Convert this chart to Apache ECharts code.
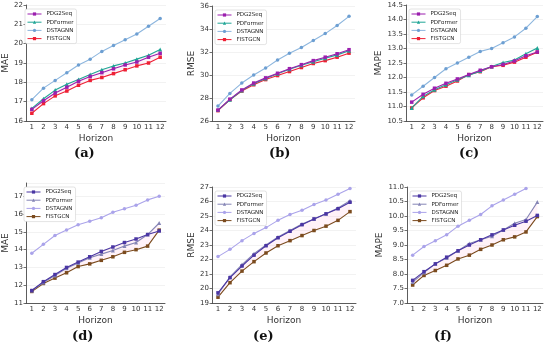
<!DOCTYPE html>
<html><head><meta charset="utf-8">
<script src="https://cdn.jsdelivr.net/npm/echarts@6/dist/echarts.min.js"></script>
<style>html,body{margin:0;padding:0;background:#fff}#c{width:550px;height:350px}</style>
</head><body><div id="c"></div>
<script>
const horizons = ['1','2','3','4','5','6','7','8','9','10','11','12'];
const seriesNames = ['PDG2Seq','PDFormer','DSTAGNN','FISTGCN'];

// (a) MAE
const a_PDG2Seq = [16.6,17.05,17.45,17.75,18.05,18.3,18.5,18.7,18.9,19.05,19.3,19.5];
const a_PDFormer = [16.65,17.15,17.6,17.9,18.15,18.4,18.65,18.85,19.0,19.2,19.4,19.7];
const a_DSTAGNN = [17.1,17.7,18.1,18.5,18.9,19.2,19.6,19.9,20.2,20.5,20.9,21.3];
const a_FISTGCN = [16.4,16.9,17.3,17.55,17.85,18.1,18.25,18.45,18.65,18.85,19.0,19.3];
// (b) RMSE
const b_PDG2Seq = [26.95,27.9,28.7,29.3,29.75,30.15,30.55,30.9,31.25,31.55,31.85,32.2];
const b_PDFormer = [26.95,27.85,28.65,29.25,29.7,30.1,30.5,30.85,31.15,31.45,31.75,32.1];
const b_DSTAGNN = [27.3,28.4,29.3,30.0,30.6,31.3,31.9,32.4,33.0,33.6,34.3,35.1];
const b_FISTGCN = [26.9,27.85,28.6,29.15,29.6,29.95,30.3,30.65,31.0,31.25,31.55,31.9];
// (c) MAPE
const c_PDG2Seq = [11.15,11.42,11.63,11.8,11.95,12.1,12.25,12.37,12.45,12.57,12.75,12.88];
const c_PDFormer = [10.95,11.35,11.58,11.75,11.92,12.08,12.22,12.38,12.52,12.6,12.82,13.02];
const c_DSTAGNN = [11.4,11.7,12.0,12.3,12.5,12.7,12.9,13.0,13.2,13.4,13.7,14.1];
const c_FISTGCN = [10.95,11.3,11.55,11.7,11.88,12.1,12.2,12.37,12.42,12.53,12.7,12.87];
// (d) MAE
const d_PDG2Seq = [11.7,12.2,12.6,13.0,13.3,13.6,13.9,14.15,14.4,14.6,14.85,15.05];
const d_PDFormer = [11.7,12.15,12.55,12.95,13.25,13.55,13.75,13.95,14.2,14.4,14.85,15.5];
const d_DSTAGNN = [13.8,14.3,14.8,15.1,15.4,15.6,15.8,16.1,16.3,16.5,16.8,17.0];
const d_FISTGCN = [11.65,12.1,12.4,12.7,13.05,13.2,13.4,13.6,13.85,14.0,14.2,15.1];
// (e) RMSE
const e_PDG2Seq = [19.7,20.75,21.55,22.3,22.95,23.5,23.95,24.4,24.8,25.15,25.5,25.95];
const e_PDFormer = [19.6,20.8,21.65,22.4,23.0,23.55,24.0,24.45,24.8,25.15,25.55,26.05];
const e_DSTAGNN = [22.2,22.7,23.3,23.8,24.2,24.7,25.1,25.4,25.8,26.1,26.5,26.9];
const e_FISTGCN = [19.4,20.4,21.2,21.85,22.45,22.95,23.3,23.65,24.0,24.3,24.7,25.3];
// (f) MAPE
const f_PDG2Seq = [7.78,8.08,8.35,8.58,8.8,9.0,9.18,9.35,9.52,9.68,9.82,10.02];
const f_PDFormer = [7.72,8.05,8.35,8.55,8.8,9.05,9.18,9.3,9.52,9.75,9.88,10.48];
const f_DSTAGNN = [8.65,8.95,9.15,9.35,9.65,9.85,10.05,10.35,10.55,10.75,10.95,null];
const f_FISTGCN = [7.62,7.95,8.12,8.3,8.52,8.65,8.85,9.0,9.18,9.28,9.45,9.98];

const topColors = {PDG2Seq:'#9b1fae', PDFormer:'#1fa595', DSTAGNN:'#8db6de', FISTGCN:'#ee2035'};
const topSym = {DSTAGNN:'#6d9fd2'};
const botColors = {PDG2Seq:'#4a36a3', PDFormer:'#8585b5', DSTAGNN:'#aaa3ea', FISTGCN:'#7b4b1e'};
const symbols = {PDG2Seq:'rect', PDFormer:'triangle', DSTAGNN:'circle', FISTGCN:'rect'};

const panels = [
  {id:'a', grid:{left:22,top:5,width:144,height:116}, min:16, max:22, interval:1, dec:0, showMax:true, yname:'MAE', colors:topColors, data:[a_PDG2Seq,a_PDFormer,a_DSTAGNN,a_FISTGCN], lab:[82,155]},
  {id:'b', grid:{left:212,top:6,width:143,height:115}, min:26, max:36, interval:2, dec:0, showMax:true, yname:'RMSE', colors:topColors, data:[b_PDG2Seq,b_PDFormer,b_DSTAGNN,b_FISTGCN], lab:[277,155]},
  {id:'c', grid:{left:406,top:5,width:137,height:116}, min:10.5, max:14.5, interval:0.5, dec:1, showMax:true, yname:'MAPE', colors:topColors, data:[c_PDG2Seq,c_PDFormer,c_DSTAGNN,c_FISTGCN], lab:[467,155]},
  {id:'d', grid:{left:21,top:183,width:144,height:120}, min:11, max:17.75, interval:1, dec:0, showMax:false, yname:'MAE', colors:botColors, data:[d_PDG2Seq,d_PDFormer,d_DSTAGNN,d_FISTGCN], lab:[80,338]},
  {id:'e', grid:{left:212,top:187,width:144,height:116}, min:19, max:27, interval:1, dec:0, showMax:true, yname:'RMSE', colors:botColors, data:[e_PDG2Seq,e_PDFormer,e_DSTAGNN,e_FISTGCN], lab:[261,338]},
  {id:'f', grid:{left:407,top:187,width:136,height:116}, min:7, max:11, interval:0.5, dec:1, showMax:true, yname:'MAPE', colors:botColors, data:[f_PDG2Seq,f_PDFormer,f_DSTAGNN,f_FISTGCN], lab:[442,338]}
];

const option = {animation:false, backgroundColor:'#fff', grid:[], xAxis:[], yAxis:[], series:[], legend:[], graphic:[]};
const axisCol = '#333';
const font = 'DejaVu Sans';

panels.forEach((p, i) => {
  option.grid.push(Object.assign({containLabel:false}, p.grid));
  option.xAxis.push({
    type:'category', gridIndex:i, data:horizons, boundaryGap:true,
    name:'Horizon', nameLocation:'middle', nameGap:13,
    nameTextStyle:{fontFamily:font, fontSize:9, color:axisCol},
    axisLine:{lineStyle:{color:axisCol, width:0.8}},
    axisTick:{alignWithLabel:true, length:2.5, lineStyle:{color:axisCol, width:0.7}},
    axisLabel:{fontFamily:font, fontSize:7, color:axisCol, margin:3, interval:0},
    splitLine:{show:false}
  });
  option.yAxis.push({
    type:'value', gridIndex:i, min:p.min, max:p.max, interval:p.interval,
    name:p.yname, nameLocation:'middle', nameGap: p.dec ? 22 : 16,
    nameTextStyle:{fontFamily:font, fontSize:9, color:axisCol},
    axisLine:{show:true, lineStyle:{color:axisCol, width:0.8}},
    axisTick:{show:true, length:2.5, lineStyle:{color:axisCol, width:0.7}},
    axisLabel:{fontFamily:font, fontSize:7, color:axisCol, margin:3, showMaxLabel:p.showMax,
      formatter: v => p.dec ? v.toFixed(1) : String(v)},
    splitLine:{show:true, lineStyle:{color:'#ececec', width:0.7}}
  });
  // pink band between lowest and highest of non-DSTAGNN series
  const trio = [p.data[0], p.data[1], p.data[3]];
  const lo = horizons.map((_, k) => Math.min(...trio.map(s => s[k])));
  const hi = horizons.map((_, k) => Math.max(...trio.map(s => s[k])));
  option.series.push({type:'line', name:'band_lo_'+p.id, xAxisIndex:i, yAxisIndex:i, stack:'band'+p.id,
    data:lo, symbol:'none', lineStyle:{opacity:0}, silent:true, z:1});
  option.series.push({type:'line', name:'band_hi_'+p.id, xAxisIndex:i, yAxisIndex:i, stack:'band'+p.id,
    data:hi.map((h, k) => +(h - lo[k]).toFixed(4)), symbol:'none', lineStyle:{opacity:0},
    areaStyle:{color:'rgba(255,170,210,0.22)'}, silent:true, z:1});
  seriesNames.forEach((nm, j) => {
    const col = p.colors[nm];
    const symCol = (p.colors === topColors && topSym[nm]) ? topSym[nm] : col;
    option.series.push({
      type:'line', name:nm, xAxisIndex:i, yAxisIndex:i, data:p.data[j],
      symbol:symbols[nm], symbolSize: nm==='PDFormer' ? 4 : 3.5, showSymbol:true,
      lineStyle:{color:col, width:1.1}, itemStyle:{color:symCol},
      z: 3 + (3 - j), connectNulls:false
    });
  });
  option.legend.push({
    left:p.grid.left + 3, top:p.grid.top + 4, orient:'vertical',
    itemWidth:14, itemHeight:4, itemGap:2.2, padding:[2,3,2,2],
    borderColor:'#d0d0d0', borderWidth:0.6, borderRadius:2, backgroundColor:'#fff',
    textStyle:{fontFamily:font, fontSize:5.5, color:'#222'},
    selectedMode:false,
    data: seriesNames.map(nm => ({name:nm,
      itemStyle:{color: (p.colors === topColors && topSym[nm]) ? topSym[nm] : p.colors[nm]},
      lineStyle:{color:p.colors[nm], width:1}}))
  });
  option.graphic.push({type:'text', left:p.lab[0]-8, top:p.lab[1]-8,
    style:{text:'('+p.id+')', font:'bold 13px "DejaVu Serif"', fill:'#111'}});
});

const chart = echarts.init(document.getElementById('c'), null, {renderer:'canvas'});
chart.setOption(option);
</script></body></html>
